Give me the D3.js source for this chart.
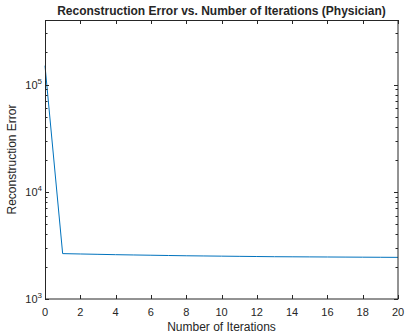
<!DOCTYPE html>
<html><head><meta charset="utf-8">
<script src="https://cdn.jsdelivr.net/npm/d3@7"></script>
<style>body{margin:0;background:#fff}svg{display:block}text{font-family:"Liberation Sans",Arial,sans-serif;fill:#262626}</style>
</head><body>
<svg id="c" width="406" height="333"></svg>
<script>
const iterations = [0,1,2,3,4,5,6,7,8,9,10,11,12,13,14,15,16,17,18,19,20];
const errors = [150000,2650,2630,2610,2590,2575,2560,2545,2530,2520,2510,2500,2490,2480,2475,2470,2465,2460,2455,2450,2445];
const xTicks = [0,2,4,6,8,10,12,14,16,18,20];
const yTicks = [1e3,1e4,1e5];
const yDomain = [1e3, 4e5];
const xDomain = [0, 20];
const titleText = "Reconstruction Error vs. Number of Iterations (Physician)";
const xLabel = "Number of Iterations";
const yLabel = "Reconstruction Error";

const L=45, R=398, T=20, B=299;
const svg = d3.select("#c");
const x = d3.scaleLinear().domain(xDomain).range([L,R]);
const y = d3.scaleLog().domain(yDomain).range([B,T]);
const axc = "#262626";

const minor = [];
for (let d=1e3; d<yDomain[1]; d*=10) for (let k=2;k<=9;k++){ const v=d*k; if(v<=yDomain[1]) minor.push(v); }

const g = svg.append("g");
g.append("path").datum(iterations.map((it,i)=>[it,errors[i]]))
 .attr("fill","none").attr("stroke","#0072BD").attr("stroke-width",1)
 .attr("d", d3.line().x(d=>x(d[0])).y(d=>y(d[1])));

g.append("rect").attr("x",L+0.5).attr("y",T+0.5).attr("width",R-L-0.5).attr("height",B-T-0.5)
 .attr("fill","none").attr("stroke",axc).attr("stroke-width",1);

const tl=4, ml=2.5;
xTicks.forEach(v=>{
  const px=Math.round(x(v))+0.5;
  g.append("line").attr("x1",px).attr("x2",px).attr("y1",B).attr("y2",B-tl).attr("stroke",axc);
  g.append("line").attr("x1",px).attr("x2",px).attr("y1",T).attr("y2",T+tl).attr("stroke",axc);
  g.append("text").attr("x",x(v)).attr("y",B+17).attr("text-anchor","middle").attr("font-size","11px").text(v);
});
yTicks.forEach(v=>{
  const py=Math.round(y(v))+0.5;
  g.append("line").attr("x1",L).attr("x2",L+tl).attr("y1",py).attr("y2",py).attr("stroke",axc);
  g.append("line").attr("x1",R).attr("x2",R-tl).attr("y1",py).attr("y2",py).attr("stroke",axc);
  const t=g.append("text").attr("x",L-3).attr("y",y(v)+4).attr("text-anchor","end").attr("font-size","11px");
  t.append("tspan").text("10");
  t.append("tspan").attr("dy",-5).attr("font-size","8px").text(Math.round(Math.log10(v)));
});
minor.forEach(v=>{
  const py=Math.round(y(v))+0.5;
  g.append("line").attr("x1",L).attr("x2",L+ml).attr("y1",py).attr("y2",py).attr("stroke",axc);
  g.append("line").attr("x1",R).attr("x2",R-ml).attr("y1",py).attr("y2",py).attr("stroke",axc);
});

svg.append("text").attr("x",(L+R)/2).attr("y",15).attr("text-anchor","middle")
 .attr("font-size","12px").attr("font-weight","bold").attr("fill","#000").text(titleText);
svg.append("text").attr("x",(L+R)/2).attr("y",331).attr("text-anchor","middle")
 .attr("font-size","12px").text(xLabel);
svg.append("text").attr("transform",`translate(16,${(T+B)/2}) rotate(-90)`).attr("text-anchor","middle")
 .attr("font-size","12px").text(yLabel);
</script>
</body></html>
